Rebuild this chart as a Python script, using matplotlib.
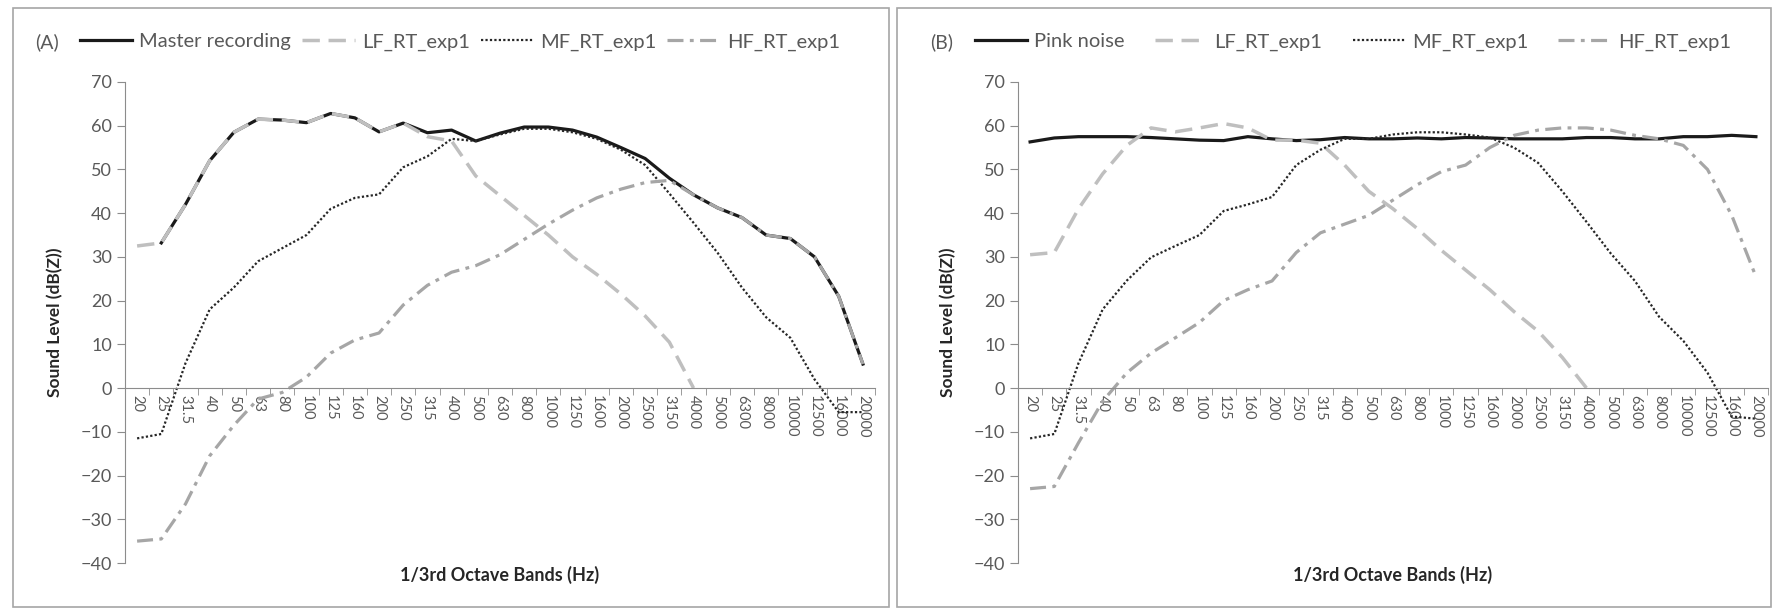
import matplotlib
matplotlib.use('Agg')
from matplotlib import pyplot as plt
from matplotlib.patches import Rectangle
import numpy as np

plt.rcParams['font.family'] = ['Lato', 'DejaVu Sans']

nan = np.nan

bands = ['20', '25', '31.5', '40', '50', '63', '80', '100', '125', '160', '200',
         '250', '315', '400', '500', '630', '800', '1000', '1250', '1600', '2000',
         '2500', '3150', '4000', '5000', '6300', '8000', '10000', '12500', '16000', '20000']

# (A) master recording
master_a = [nan, 33.2, 42, 52, 58.5, 61.5, 61.3, 60.7, 62.8, 61.8, 58.6, 60.6, 58.4, 59, 56.5,
            58.3, 59.7, 59.7, 59, 57.4, 55, 52.5, 48, 44.2, 41.2, 39, 35, 34.2, 30, 21, 5.5]
lf_a = [32.5, 33.2, 42, 52, 58.5, 61.5, 61.3, 60.7, 62.8, 61.8, 58.6, 60.6, 57.5, 56.5, 48.5,
        44, 39.5, 35, 30, 26, 21.5, 16.5, 10.5, 0, nan, nan, nan, nan, nan, nan, nan]
mf_a = [-11.5, -10.5, 5.7, 18, 23, 29, 32, 35, 41, 43.5, 44.3, 50.5, 53, 57, 56.5,
        58, 59.3, 59.3, 58.5, 57, 54.5, 51, 44.5, 37.8, 30.9, 23, 16.2, 11.5, 2, -5.5, -5.5]
hf_a = [-35, -34.5, -26.5, -15.5, -8.5, -2.5, -1, 2.5, 8, 11, 12.6, 19, 23.5, 26.5, 28,
        30.5, 34, 37.5, 40.7, 43.5, 45.5, 47, 47.5, 44.2, 41.2, 39, 35, 34.2, 30, 21, 5.5]

# (B) pink noise
pink_b = [56.3, 57.2, 57.5, 57.5, 57.5, 57.3, 57.0, 56.7, 56.6, 57.5, 57.0, 56.6, 56.8, 57.3, 57.0,
          57.0, 57.2, 57.0, 57.3, 57.2, 57.0, 57.0, 57.0, 57.3, 57.3, 57.0, 57.0, 57.5, 57.5, 57.8, 57.5]
lf_b = [30.5, 31, 41, 49, 55.5, 59.5, 58.6, 59.5, 60.5, 59.5, 56.7, 56.7, 56, 51, 45,
        41, 36.5, 31.5, 27, 22.5, 17.5, 13, 7, 0, nan, nan, nan, nan, nan, nan, nan]
mf_b = [-11.5, -10.5, 5.7, 18, 24.6, 29.9, 32.5, 35, 40.5, 42, 43.7, 51, 54.5, 57, 57,
        58, 58.5, 58.5, 58, 57.3, 55, 51.5, 45, 38, 30.8, 24.5, 16.3, 10.8, 3.5, -6.5, -7]
hf_b = [-23, -22.5, -12.5, -3, 3.5, 8, 11.5, 15, 20, 22.5, 24.5, 31, 35.5, 37.5, 39.5,
        43, 46.5, 49.5, 51, 55, 57.8, 59, 59.5, 59.5, 59, 57.8, 57, 55.5, 50, 39.5, 25.5]

W, H = 1775, 613


def fx(px):
    return px / W


def fy(py):
    return 1 - py / H


fig = plt.figure(figsize=(W / 100, H / 100), dpi=100)

grey_txt = '#595959'
axis_col = '#8c8c8c'


def draw(ax, main, main_label, lf, mf, hf):
    x = np.arange(len(bands))
    ax.plot(x, main, color='#1a1a1a', lw=2.3, label=main_label)
    ax.plot(x, lf, color='#bfbfbf', lw=2.5, ls=(0, (5, 2.5)), label='LF_RT_exp1')
    ax.plot(x, mf, color='#262626', lw=1.6, ls=(0, (1, 1)), label='MF_RT_exp1')
    ax.plot(x, hf, color='#a6a6a6', lw=2.3, ls=(0, (5, 2, 1.2, 2)), label='HF_RT_exp1')

    ax.set_xlim(-0.5, len(bands) - 0.5)
    ax.set_ylim(-40, 70)
    ax.set_yticks(range(-40, 71, 10))
    for s in ['top', 'right']:
        ax.spines[s].set_visible(False)
    ax.spines['bottom'].set_position(('data', 0))
    ax.spines['left'].set_color(axis_col)
    ax.spines['bottom'].set_color(axis_col)
    ax.set_xticks(x)
    ax.set_xticklabels(bands, rotation=270, fontsize=10.5, color=grey_txt)
    ax.set_xticks(np.arange(-0.5, len(bands)), minor=True)
    ax.tick_params(axis='x', which='major', length=0, pad=5)
    ax.tick_params(axis='x', which='minor', length=5, color=axis_col)
    ax.tick_params(axis='y', length=6, color=axis_col, labelsize=13, labelcolor=grey_txt)

    ax.set_ylabel('Sound Level (dB(Z))', fontsize=12.5, fontweight='bold', color='#262626')
    ax.yaxis.set_label_coords(-0.082, 0.5)
    ax.set_xlabel('1/3rd Octave Bands (Hz)', fontsize=13, fontweight='bold', color='#262626')
    ax.xaxis.set_label_coords(0.5, -0.006)


ax_a = fig.add_axes([fx(125), fy(563), fx(875) - fx(125), fy(82) - fy(563)])
draw(ax_a, master_a, 'Master recording', lf_a, mf_a, hf_a)
ax_b = fig.add_axes([fx(1018), fy(563), fx(1768) - fx(1018), fy(82) - fy(563)])
draw(ax_b, pink_b, 'Pink noise', lf_b, mf_b, hf_b)

for ax, tag, tx, lx, cs in [(ax_a, '(A)', 35, 80, 0.55), (ax_b, '(B)', 930, 975, 1.5)]:
    leg = ax.legend(ncol=4, loc='center left', bbox_to_anchor=(fx(lx), fy(42)),
                    bbox_transform=fig.transFigure, frameon=False, fontsize=14.5,
                    handlelength=2.6, handletextpad=0.35, columnspacing=cs,
                    borderpad=0, borderaxespad=0)
    for t in leg.get_texts():
        t.set_color(grey_txt)
    fig.text(fx(tx), fy(42), tag, fontsize=14, color=grey_txt, va='center', ha='left')

for x0, x1 in [(13, 889), (897, 1771)]:
    fig.add_artist(Rectangle((fx(x0), fy(607)), fx(x1) - fx(x0), fy(8) - fy(607),
                             transform=fig.transFigure, fill=False,
                             edgecolor='#a6a6a6', lw=1.2))

fig.savefig('out.png', dpi=100)
